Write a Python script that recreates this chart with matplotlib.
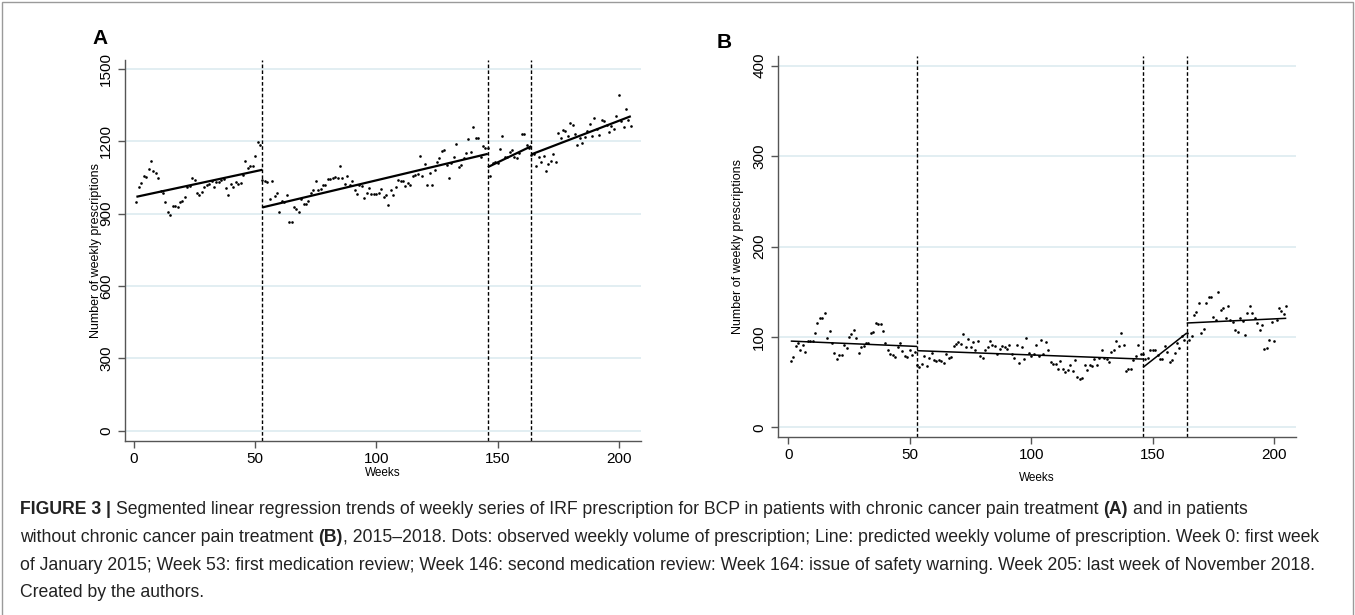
import numpy as np
import matplotlib.pyplot as plt
from matplotlib.patches import Rectangle

W, H = 1355, 615

plt.rcParams['font.family'] = ['Liberation Sans', 'DejaVu Sans']
cap_font = ['Liberation Sans Narrow', 'Liberation Sans', 'DejaVu Sans']

# weekly observed prescriptions, weeks 1..205
weeks = np.arange(1, 206)
presc_a = [947, 1009, 1027, 1058, 1051, 1086, 1119, 1075, 1069, 1047,
           995, 984, 947, 905, 894, 930, 930, 926, 947, 954,
           970, 1012, 1016, 1047, 1040, 984, 979, 991, 1009, 1019,
           1023, 1037, 1009, 1030, 1030, 1040, 1044, 1007, 979, 1023,
           1009, 1030, 1023, 1026, 1061, 1119, 1090, 1097, 1097, 1141,
           1197, 1183, 1041, 1034, 1030, 961, 1034, 975, 986, 905,
           954, 947, 979, 866, 866, 926, 919, 905, 961, 940,
           940, 954, 984, 998, 1037, 998, 1002, 1019, 1019, 1044,
           1044, 1048, 1051, 1048, 1097, 1047, 1022, 1058, 1019, 1037,
           998, 981, 1019, 1014, 964, 986, 1005, 982, 982, 982,
           986, 1002, 968, 979, 937, 998, 979, 1010, 1041, 1037,
           1034, 1016, 1027, 1020, 1055, 1061, 1065, 1139, 1058, 1105,
           1020, 1069, 1019, 1082, 1116, 1130, 1158, 1166, 1100, 1047,
           1111, 1134, 1187, 1093, 1100, 1130, 1152, 1208, 1155, 1259,
           1215, 1215, 1134, 1179, 1172, 1172, 1055, 1109, 1114, 1110,
           1169, 1222, 1134, 1137, 1155, 1165, 1134, 1130, 1150, 1229,
           1229, 1186, 1172, 1144, 1148, 1097, 1134, 1114, 1139, 1075,
           1107, 1120, 1146, 1116, 1236, 1215, 1246, 1241, 1220, 1277,
           1266, 1230, 1183, 1213, 1194, 1218, 1241, 1273, 1222, 1297,
           1252, 1227, 1290, 1284, 1268, 1240, 1262, 1252, 1306, 1392,
           1284, 1261, 1333, 1289, 1264]
presc_b = [73, 78, 90, 93, 86, 91, 83, 96, 96, 95,
           104, 115, 121, 121, 126, 99, 107, 93, 82, 76,
           80, 80, 91, 88, 100, 103, 108, 99, 82, 89,
           90, 93, 93, 104, 105, 115, 114, 114, 107, 93,
           86, 81, 80, 78, 89, 93, 84, 79, 78, 85,
           80, 83, 69, 67, 70, 79, 68, 77, 82, 74,
           73, 75, 73, 71, 81, 77, 78, 90, 92, 94,
           92, 103, 89, 98, 89, 94, 86, 95, 79, 77,
           85, 89, 96, 91, 90, 81, 87, 90, 89, 87,
           91, 81, 77, 91, 71, 89, 76, 99, 82, 79,
           81, 91, 79, 97, 81, 94, 86, 72, 70, 70,
           65, 73, 65, 61, 63, 69, 62, 75, 56, 53,
           55, 69, 63, 69, 68, 76, 69, 77, 85, 77,
           76, 72, 83, 85, 96, 90, 104, 91, 62, 64,
           64, 75, 79, 91, 81, 81, 76, 77, 85, 85,
           86, 80, 76, 76, 90, 83, 72, 75, 82, 93,
           88, 101, 97, 104, 97, 101, 124, 128, 137, 104,
           109, 137, 144, 144, 122, 119, 150, 130, 132, 121,
           134, 119, 117, 108, 106, 121, 118, 102, 127, 134,
           126, 121, 115, 108, 113, 87, 88, 97, 117, 96,
           119, 132, 129, 125, 134]

# interruption weeks
breaks = [53, 146, 164]

# predicted (segmented regression) lines
seg_start = [1, 53, 146, 164]
seg_end = [53, 146, 164, 205]
fit_a_start = [970, 926, 1093, 1146]
fit_a_end = [1082, 1148, 1180, 1304]
fit_b_start = [95.4, 84.8, 66.3, 115.4]
fit_b_end = [89.5, 75.5, 104.3, 120.6]

x_ticks = [0, 50, 100, 150, 200]
y_ticks_a = [0, 300, 600, 900, 1200, 1500]
y_ticks_b = [0, 100, 200, 300, 400]


def px_axes(left, top, right, bottom):
    return fig.add_axes([left / W, 1 - bottom / H, (right - left) / W, (bottom - top) / H])


def panel(ax, obs, f0, f1, yticks, xlim, ylim, fit_lw, ylab_x, xlab_y):
    ax.set_xlim(xlim)
    ax.set_ylim(ylim)
    ax.set_xticks(x_ticks)
    ax.set_yticks(yticks)
    ax.yaxis.grid(True, color='#dae9ef', lw=1.1)
    ax.set_axisbelow(True)
    for s in ['top', 'right']:
        ax.spines[s].set_visible(False)
    for s in ['left', 'bottom']:
        ax.spines[s].set_color('#555555')
        ax.spines[s].set_linewidth(1.0)
    ax.tick_params(direction='out', length=5, width=1, color='#555555',
                   labelsize=11)
    ax.tick_params(axis='x', pad=3)
    ax.tick_params(axis='y', pad=3.5)
    plt.setp(ax.get_yticklabels(), rotation=90, va='center')

    ax.plot(weeks, obs, 'o', color='black', ms=1.9, mew=0)
    for i in range(len(seg_start)):
        ax.plot([seg_start[i], seg_end[i]], [f0[i], f1[i]], color='black', lw=fit_lw,
                solid_capstyle='butt')
    for b in breaks:
        ax.axvline(b, color='black', lw=1.0, ls=(0, (2.6, 1.6)))

    ax.set_ylabel('Number of weekly prescriptions', fontsize=9)
    ax.yaxis.set_label_coords(ylab_x, 0.5)
    ax.set_xlabel('Weeks', fontsize=8.5)
    ax.xaxis.set_label_coords(0.5, xlab_y)


fig = plt.figure(figsize=(W / 100, H / 100), dpi=100)

ax_a = px_axes(125, 60, 641, 440.7)
panel(ax_a, presc_a, fit_a_start, fit_a_end, y_ticks_a, (-3.7, 209.2), (-41, 1537), 1.6,
      -0.045, -0.069)

ax_b = px_axes(778, 56, 1296, 437.3)
panel(ax_b, presc_b, fit_b_start, fit_b_end, y_ticks_b, (-4.25, 209), (-11, 410.7), 1.1,
      -0.066, -0.091)

fig.text(100 / W, 1 - 38 / H, 'A', fontsize=15, weight='bold', va='center', ha='center')
fig.text(724 / W, 1 - 42 / H, 'B', fontsize=15, weight='bold', va='center', ha='center')

# figure frame
fig.patches.append(Rectangle((1.5 / W, -0.05), (W - 3.5) / W, 1.05 - 1.5 / H,
                             transform=fig.transFigure, fill=False,
                             edgecolor='#9a9a9a', lw=1.0))

# caption with mixed bold runs
renderer = fig.canvas.get_renderer()
caption = [
    (514, [('FIGURE 3 |', True, True),
           ('Segmented linear regression trends of weekly series of IRF prescription for BCP '
            'in patients with chronic cancer pain treatment', False, True),
           ('(A)', True, True),
           ('and in patients', False, False)]),
    (542, [('without chronic cancer pain treatment', False, True),
           ('(B)', True, False),
           (', 2015\u20132018. Dots: observed weekly volume of prescription; Line: predicted '
            'weekly volume of prescription. Week 0: first week', False, False)]),
    (570, [('of January 2015; Week 53: first medication review; Week 146: second medication '
            'review: Week 164: issue of safety warning. Week 205: last week of November 2018.',
            False, False)]),
    (597, [('Created by the authors.', False, False)]),
]


def text_w(s, weight, size):
    t = fig.text(0, 0, s, fontsize=size, family=cap_font, weight=weight)
    w = t.get_window_extent(renderer=renderer).width
    t.remove()
    return w


def line_w(runs, size):
    sp = text_w('a a', 'normal', size) - text_w('aa', 'normal', size)
    total = 0.0
    for txt, bold, gap in runs:
        total += text_w(txt, 'bold' if bold else 'normal', size)
        if gap:
            total += sp
    return total


# fit the longest caption line to the reference width
base = 13.0
cap_size = base * 1296.0 / line_w(caption[1][1], base)
space_w = text_w('a a', 'normal', cap_size) - text_w('aa', 'normal', cap_size)


def put_runs(y_base, runs):
    x = 20.0
    for txt, bold, gap in runs:
        wt = 'bold' if bold else 'normal'
        t = fig.text(x / W, 1 - y_base / H, txt, fontsize=cap_size, family=cap_font,
                     weight=wt, va='baseline', ha='left', color='#222222')
        x += t.get_window_extent(renderer=renderer).width
        if gap:
            x += space_w


for yb, runs in caption:
    put_runs(yb, runs)

fig.savefig('out.png', dpi=100)
